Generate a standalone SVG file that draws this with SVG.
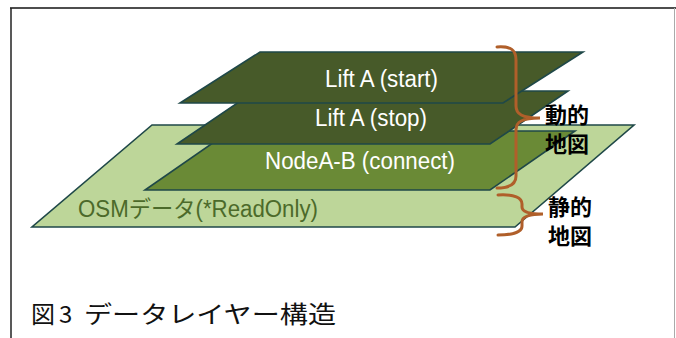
<svg xmlns="http://www.w3.org/2000/svg" width="676" height="338" viewBox="0 0 676 338">
<style>
.layer{stroke:#1f4848;stroke-width:1.6;stroke-linejoin:miter}
.dark{fill:#475a29}
.mid{fill:#6a8a36}
.light{fill:#bdd699}
.lbl{font-family:"Liberation Sans","Noto Sans CJK JP",sans-serif;font-size:23px;fill:#ffffff}
.osm{fill:#4c6a2a}
.brace{fill:none;stroke:#b05f2a;stroke-width:3;stroke-linecap:round}
.side{font-family:"Noto Sans CJK JP",sans-serif;font-size:22px;font-weight:bold;fill:#000}
.cap{font-family:"Noto Sans CJK JP",sans-serif;font-size:24px;fill:#111}
</style>
<rect x="0" y="0" width="676" height="338" fill="#ffffff"/>
<g id="frame">
<line x1="10" y1="8" x2="676" y2="8" stroke="#4d4d4d" stroke-width="2"/>
<line x1="11" y1="8" x2="11" y2="338" stroke="#222" stroke-width="1.5"/>
<line x1="674.5" y1="8" x2="674.5" y2="338" stroke="#aaa" stroke-width="1"/>
</g>
<g id="osm-layer">
<polygon class="layer light" points="152,125 634,125 515,227 32,227"/>
<text class="lbl osm" x="78" y="217" textLength="240" lengthAdjust="spacingAndGlyphs">OSMデータ(*ReadOnly)</text>
</g>
<g id="node-layer">
<polygon class="layer mid" points="230,131 575,131 490,190 145,190"/>
<text class="lbl" x="265" y="169" textLength="190" lengthAdjust="spacingAndGlyphs">NodeA-B (connect)</text>
</g>
<g id="stop-layer">
<polygon class="layer dark" points="255,91 568,91 490,144 177,144"/>
<text class="lbl" x="315" y="126" textLength="112" lengthAdjust="spacingAndGlyphs">Lift A (stop)</text>
</g>
<g id="start-layer">
<polygon class="layer dark" points="260,52 583,52 503,103 180,103"/>
<text class="lbl" x="325" y="87" textLength="113" lengthAdjust="spacingAndGlyphs">Lift A (start)</text>
</g>
<g id="connectors">
<path class="brace" d="M497,47 C511,46 516,50 516,60 L516,106 C516,114 522,118 540,118 C522,118 516,122 516,130 L516,176 C516,184 510,188 497,188"/>
<path class="brace" d="M498,195 C515,194 522,198 522,204 L522,207 C522,211 527,214 543,214 C527,214 522,217 522,222 L522,226 C522,231 515,235 498,235"/>
</g>
<g id="dynamic-label">
<text class="side" x="545" y="123">動的</text>
<text class="side" x="545" y="152">地図</text>
</g>
<g id="static-label">
<text class="side" x="548" y="215">静的</text>
<text class="side" x="548" y="244">地図</text>
</g>
<g id="caption">
<text class="cap" x="31" y="323">図</text>
<text class="cap" x="59" y="323" font-family="Liberation Sans, sans-serif">3</text>
<text class="cap" x="84" y="323" textLength="252" lengthAdjust="spacingAndGlyphs">データレイヤー構造</text>
</g>
</svg>
